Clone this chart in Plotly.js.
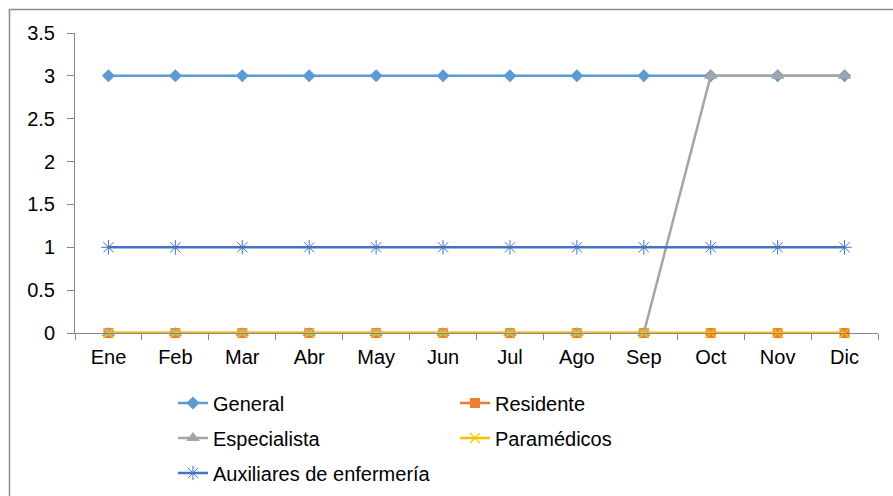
<!DOCTYPE html>
<html>
<head>
<meta charset="utf-8">
<script src="https://cdn.plot.ly/plotly-3.0.1.min.js"></script>
<style>html,body{margin:0;padding:0;background:#fff;}#chart{width:893px;height:496px;}</style>
</head>
<body>
<div id="chart"></div>
<script>
const months = ["Ene","Feb","Mar","Abr","May","Jun","Jul","Ago","Sep","Oct","Nov","Dic"];
const general      = [3,3,3,3,3,3,3,3,3,3,3,3];
const residente    = [0,0,0,0,0,0,0,0,0,0,0,0];
const especialista = [0,0,0,0,0,0,0,0,0,3,3,3];
const paramedicos  = [0,0,0,0,0,0,0,0,0,0,0,0];
const auxiliares   = [1,1,1,1,1,1,1,1,1,1,1,1];
const seriesNames = ["General","Residente","Especialista","Paramédicos","Auxiliares de enfermería"];

const FONT = {family: "Liberation Sans, Arial, sans-serif", size: 20, color: "#000"};

const traces = [
  {y: general, name: seriesNames[0], legend: "legend",
   line: {color: "#5B9BD5", width: 2.5},
   marker: {symbol: "diamond", size: 10, color: "#5B9BD5"}},
  {y: residente, name: seriesNames[1], legend: "legend2",
   line: {color: "#ED7D31", width: 2.5},
   marker: {symbol: "square", size: 10, color: "#ED7D31"}},
  {y: especialista, name: seriesNames[2], legend: "legend3",
   line: {color: "#A5A5A5", width: 2.5},
   marker: {symbol: "triangle-up", size: 12, color: "#A5A5A5"}},
  {y: paramedicos, name: seriesNames[3], legend: "legend4",
   line: {color: "#FFC000", width: 2.5},
   marker: {symbol: "x-thin-open", size: 10, color: "#FFC000", line: {color: "#FFC000", width: 1.2}}},
  {y: auxiliares, name: seriesNames[4], legend: "legend5",
   line: {color: "#4472C4", width: 2.5},
   marker: {symbol: "asterisk-open", size: 12, color: "#4472C4", line: {color: "#4472C4", width: 1}}}
].map(t => Object.assign({type: "scatter", mode: "lines+markers", x: months, cliponaxis: false}, t));

function leg(x, y) {
  return {x: x, y: y, xanchor: "left", yanchor: "middle", orientation: "h",
          font: FONT, bgcolor: "rgba(0,0,0,0)", borderwidth: 0};
}

const layout = {
  width: 893, height: 496,
  margin: {l: 75, r: 15, t: 33, b: 163, autoexpand: false},
  paper_bgcolor: "#fff", plot_bgcolor: "#fff",
  font: FONT,
  showlegend: true,
  legend: leg(0.122, -0.2333),
  legend2: leg(0.4732, -0.2333),
  legend3: leg(0.122, -0.35),
  legend4: leg(0.4732, -0.35),
  legend5: leg(0.122, -0.4667),
  xaxis: {
    type: "category", range: [-0.5, 11.5],
    showgrid: false, zeroline: false, automargin: false,
    showline: true, linecolor: "#868686", linewidth: 1,
    ticks: "outside", tickson: "boundaries", ticklen: 6, tickcolor: "#868686",
    tickfont: FONT, ticklabelstandoff: 6
  },
  yaxis: {
    range: [0, 3.5], dtick: 0.5, tick0: 0,
    showgrid: false, zeroline: false, automargin: false,
    showline: true, linecolor: "#868686", linewidth: 1,
    ticks: "outside", ticklen: 7, tickcolor: "#868686",
    tickfont: FONT, ticklabelstandoff: 8
  },
  shapes: [{
    type: "rect", xref: "paper", yref: "paper",
    x0: -0.0816, x1: 1.06, y0: -0.62, y1: 1.0783,
    line: {color: "#8C8C8C", width: 1.5}, fillcolor: "rgba(0,0,0,0)", layer: "below"
  }]
};

Plotly.newPlot("chart", traces, layout, {displayModeBar: false, staticPlot: true});
</script>
</body>
</html>
